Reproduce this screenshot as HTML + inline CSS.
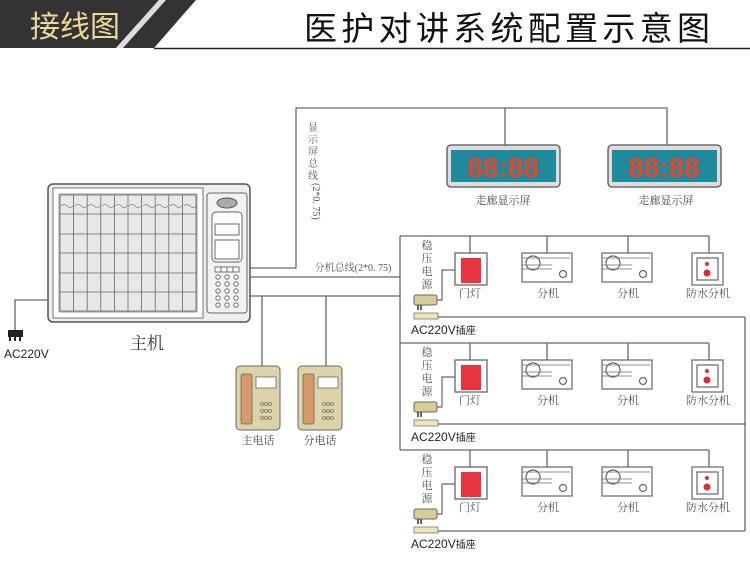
<!DOCTYPE html>
<html><head><meta charset="utf-8"><style>
body{margin:0;background:#fff}
svg{display:block}
text{font-family:"Liberation Serif","Noto Serif CJK SC",serif}
.s{font-family:"Liberation Sans","Noto Sans CJK SC",sans-serif}
</style></head><body>
<svg width="750" height="569" viewBox="0 0 750 569" xmlns="http://www.w3.org/2000/svg">
<defs>
<g id="grp">
  <polyline points="400,0 709,0" fill="none" stroke="#666" stroke-width="1.3"/>
  <line x1="470" y1="0" x2="470" y2="17" stroke="#666" stroke-width="1.3"/>
  <line x1="547" y1="0" x2="547" y2="17" stroke="#666" stroke-width="1.3"/>
  <line x1="628" y1="0" x2="628" y2="17" stroke="#666" stroke-width="1.3"/>
  <line x1="709" y1="0" x2="709" y2="17" stroke="#666" stroke-width="1.3"/>
  <text x="427" y="13" font-size="11" fill="#555" text-anchor="middle">稳</text>
  <text x="427" y="26" font-size="11" fill="#555" text-anchor="middle">压</text>
  <text x="427" y="39" font-size="11" fill="#555" text-anchor="middle">电</text>
  <text x="427" y="52" font-size="11" fill="#555" text-anchor="middle">源</text>
  <rect x="455" y="17" width="32" height="32" fill="#fff" stroke="#666" stroke-width="1.3"/>
  <rect x="461" y="22" width="20" height="25" fill="#e8343e"/>
  <polyline points="437,64 442,64 442,34 455,34" fill="none" stroke="#666" stroke-width="1.2"/>
  <rect x="414" y="59" width="23" height="10" rx="2" fill="#d6cc98" stroke="#666"/>
  <line x1="418" y1="69" x2="418" y2="74" stroke="#333" stroke-width="1.5"/><line x1="421" y1="69" x2="421" y2="74" stroke="#333" stroke-width="1.5"/>
  <rect x="414" y="77" width="24" height="6" fill="#ede5b8" stroke="#777" stroke-width="0.8"/>
  <polyline points="438,81 745,81 745" fill="none" stroke="#666" stroke-width="1.3"/>
  <text x="411" y="98" font-size="12" fill="#222" class="s">AC220V<tspan font-size="10">插座</tspan></text>
  <g fill="#fff" stroke="#666" stroke-width="1.2">
  <rect x="522" y="17" width="50" height="29"/><circle cx="533" cy="27" r="7"/><circle cx="563" cy="38" r="3.5"/>
  <rect x="602" y="17" width="50" height="29"/><circle cx="613" cy="27" r="7"/><circle cx="643" cy="38" r="3.5"/>
  <rect x="692" y="17" width="31" height="32"/><rect x="697" y="22" width="21" height="22"/>
  </g>
  <g stroke="#666" stroke-width="0.8">
  <line x1="522" y1="22" x2="570" y2="22"/><line x1="522" y1="29" x2="552" y2="29"/><line x1="522" y1="33" x2="552" y2="33"/>
  <line x1="602" y1="22" x2="650" y2="22"/><line x1="602" y1="29" x2="632" y2="29"/><line x1="602" y1="33" x2="632" y2="33"/>
  </g>
  <circle cx="707" cy="28" r="2" fill="#d33"/><circle cx="707" cy="37" r="3.5" fill="#e02a30"/>
  <g font-size="11" fill="#555" text-anchor="middle">
  <text x="470" y="61">门灯</text><text x="548" y="61">分机</text><text x="628" y="61">分机</text><text x="708" y="61">防水分机</text>
  </g>
</g>
</defs>
<!-- header -->
<polygon points="0,0 159,0 116,48 0,48" fill="#333"/>
<polygon points="159,0 166,0 123,48 116,48" fill="#ddd"/>
<polygon points="166,0 196,0 154,48 123,48" fill="#333"/>
<line x1="154" y1="48.5" x2="750" y2="48.5" stroke="#222" stroke-width="1.5"/>
<text x="30" y="37" font-size="30" fill="#ecd99a" class="s">接线图</text>
<text x="304" y="40" font-size="33" fill="#111" class="s" textLength="406">医护对讲系统配置示意图</text>
<!-- main unit -->
<rect x="48" y="184" width="202" height="138" rx="5" fill="#eee" stroke="#555" stroke-width="1.5"/>
<rect x="53" y="188" width="150" height="130" fill="#fff" stroke="#777"/>
<rect x="59" y="194" width="138" height="118" fill="#e8e8e8" stroke="#777" stroke-width="0.7"/>
<g>
<path d="M60 195h136M60 214h136M60 234h136M60 253h136M60 273h136M60 292h136M60 311h136M60 195v116M73.6 195v116M87.2 195v116M100.8 195v116M114.4 195v116M128 195v116M141.6 195v116M155.2 195v116M168.8 195v116M182.4 195v116M196 195v116" fill="none" stroke="#666" stroke-width="0.8"/>
<path d="M61 206q3-3 6 0t6 0M75 206q3-3 6 0t6 0M88 206q3-3 6 0t6 0M102 206q3-3 6 0t6 0M115 206q3-3 6 0t6 0M129 206q3-3 6 0t6 0M143 206q3-3 6 0t6 0M156 206q3-3 6 0t6 0M170 206q3-3 6 0t6 0M184 206q3-3 6 0t6 0" fill="none" stroke="#777" stroke-width="0.6"/>
</g>
<rect x="207" y="193" width="40" height="120" rx="3" fill="#f2f2f2" stroke="#666"/>
<ellipse cx="227" cy="203" rx="10" ry="5" fill="#aaa" stroke="#555"/>
<rect x="212" y="212" width="30" height="50" rx="4" fill="#fff" stroke="#666"/>
<rect x="215" y="224" width="24" height="11" fill="#fff" stroke="#666"/>
<rect x="215" y="240" width="24" height="19" fill="#fff" stroke="#666"/>
<g fill="#fff" stroke="#555" stroke-width="0.8">
<rect x="215" y="267" width="6" height="5"/><rect x="221" y="267" width="6" height="5"/><rect x="227" y="267" width="6" height="5"/><rect x="233" y="267" width="6" height="5"/>
<circle cx="218" cy="277" r="2.2"/><circle cx="227" cy="277" r="2.2"/><circle cx="236" cy="277" r="2.2"/>
<circle cx="218" cy="284" r="2.2"/><circle cx="227" cy="284" r="2.2"/><circle cx="236" cy="284" r="2.2"/>
<circle cx="218" cy="291" r="2.2"/><circle cx="227" cy="291" r="2.2"/><circle cx="236" cy="291" r="2.2"/>
<circle cx="218" cy="298" r="2.2"/><circle cx="227" cy="298" r="2.2"/><circle cx="236" cy="298" r="2.2"/>
<circle cx="218" cy="305" r="2.2"/><circle cx="227" cy="305" r="2.2"/><circle cx="236" cy="305" r="2.2"/>
</g>
<text x="147" y="349" font-size="17" fill="#333" text-anchor="middle">主机</text>
<!-- AC plug -->
<polyline points="48,300 15,300 15,330" fill="none" stroke="#666" stroke-width="1.3"/>
<rect x="8" y="330" width="15" height="7" fill="#222"/>
<rect x="9" y="337" width="2" height="4" fill="#222"/><rect x="14" y="337" width="2" height="4" fill="#222"/><rect x="19" y="337" width="2" height="4" fill="#222"/>
<text x="4" y="358" font-size="12" fill="#222" class="s">AC220V</text>
<!-- buses -->
<g fill="none" stroke="#666" stroke-width="1.3">
<polyline points="250,268 296,268 296,108 667,108 667,145"/>
<line x1="505" y1="108" x2="505" y2="145"/>
<polyline points="250,277 400,277"/>
<polyline points="400,236 400,450"/>
<polyline points="250,296 400,296"/>
<line x1="262" y1="296" x2="262" y2="366"/>
<line x1="326" y1="296" x2="326" y2="366"/>
<line x1="745" y1="317" x2="745" y2="531"/>
</g>
<g font-size="10" fill="#555" text-anchor="middle">
<text x="313" y="131">显</text><text x="313" y="143">示</text><text x="313" y="155">屏</text><text x="313" y="167">总</text><text x="313" y="179">线</text>
<text x="313" y="183" transform="rotate(90 313 183)" text-anchor="start" font-size="10">(2*0. 75)</text>
<text x="353" y="271" font-size="10">分机总线(2*0. 75)</text>
</g>
<!-- displays -->
<g>
<rect x="447" y="145" width="113" height="42" rx="4" fill="#ddd" stroke="#555" stroke-width="1.3"/>
<rect x="451" y="150" width="105" height="32" fill="#1f8a9c"/>
<text x="503" y="177" font-size="28" fill="#e8442a" text-anchor="middle" class="s" font-weight="bold">88:88</text>
<rect x="608" y="145" width="113" height="42" rx="4" fill="#ddd" stroke="#555" stroke-width="1.3"/>
<rect x="612" y="150" width="105" height="32" fill="#1f8a9c"/>
<text x="664" y="177" font-size="28" fill="#e8442a" text-anchor="middle" class="s" font-weight="bold">88:88</text>
<text x="503" y="204" font-size="11" fill="#444" text-anchor="middle">走廊显示屏</text>
<text x="666" y="204" font-size="11" fill="#444" text-anchor="middle">走廊显示屏</text>
</g>
<!-- phones -->
<g>
<rect x="236" y="366" width="44" height="64" rx="4" fill="#dcd4a8" stroke="#666"/>
<rect x="241" y="374" width="11" height="50" rx="2" fill="#d89a6a" stroke="#666" stroke-width="0.8"/>
<rect x="256" y="377" width="20" height="11" fill="#fff" stroke="#666" stroke-width="0.8"/>
<text x="266" y="420" font-size="8" fill="#555" text-anchor="middle">ooo</text><text x="266" y="413" font-size="8" fill="#555" text-anchor="middle">ooo</text><text x="266" y="406" font-size="8" fill="#555" text-anchor="middle">ooo</text>
<rect x="298" y="366" width="44" height="64" rx="4" fill="#dcd4a8" stroke="#666"/>
<rect x="303" y="374" width="11" height="50" rx="2" fill="#d89a6a" stroke="#666" stroke-width="0.8"/>
<rect x="318" y="377" width="20" height="11" fill="#fff" stroke="#666" stroke-width="0.8"/>
<text x="328" y="420" font-size="8" fill="#555" text-anchor="middle">ooo</text><text x="328" y="413" font-size="8" fill="#555" text-anchor="middle">ooo</text><text x="328" y="406" font-size="8" fill="#555" text-anchor="middle">ooo</text>
<text x="258" y="444" font-size="11" fill="#444" text-anchor="middle">主电话</text>
<text x="320" y="444" font-size="11" fill="#444" text-anchor="middle">分电话</text>
</g>
<use href="#grp" transform="translate(0,236)"/>
<use href="#grp" transform="translate(0,343)"/>
<use href="#grp" transform="translate(0,450)"/>
</svg>
</body></html>
